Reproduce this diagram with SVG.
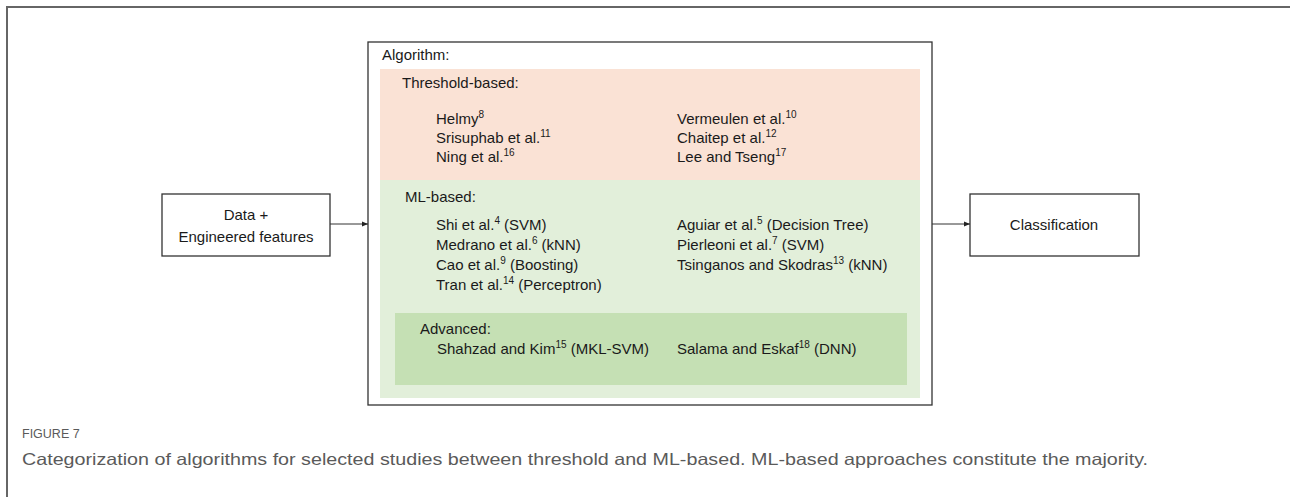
<svg xmlns="http://www.w3.org/2000/svg" width="1290" height="497" viewBox="0 0 1290 497">
<style>
.t{font-family:"Liberation Sans",Arial,sans-serif;font-size:15px;fill:#1a1a1a}
.s{font-size:10px}
.box{fill:#fff;stroke:#333;stroke-width:1.3}
.con{stroke:#333;stroke-width:1;fill:none}
.cap{font-family:"Liberation Sans",Arial,sans-serif;fill:#5a5a5a}
</style>
<defs>
<marker id="ah" viewBox="0 0 10 10" refX="10" refY="5" markerWidth="6" markerHeight="6" orient="auto" markerUnits="userSpaceOnUse">
<path d="M0,1 L10,5 L0,9 z" fill="#222"/>
</marker>
</defs>
<rect width="1290" height="497" fill="#fff"/>
<path d="M7,497 V7 H1290" fill="none" stroke="#666" stroke-width="2"/>

<g id="data">
<rect class="box" x="162" y="194" width="168" height="62"/>
<text class="t" x="246" y="220" text-anchor="middle">Data +</text>
<text class="t" x="246" y="242" text-anchor="middle">Engineered features</text>
</g>

<g id="algorithm">
<rect class="box" x="368" y="42" width="564" height="363"/>
<text class="t" x="382" y="60">Algorithm:</text>
<g id="threshold">
<rect x="380" y="69" width="540" height="111" fill="#FAE2D5"/>
<text class="t" x="402" y="88">Threshold-based:</text>
<text class="t" x="436" y="124">Helmy<tspan class="s" dy="-6">8</tspan></text>
<text class="t" x="436" y="143">Srisuphab et al.<tspan class="s" dy="-6">11</tspan></text>
<text class="t" x="436" y="162">Ning et al.<tspan class="s" dy="-6">16</tspan></text>
<text class="t" x="677" y="124">Vermeulen et al.<tspan class="s" dy="-6">10</tspan></text>
<text class="t" x="677" y="143">Chaitep et al.<tspan class="s" dy="-6">12</tspan></text>
<text class="t" x="677" y="162">Lee and Tseng<tspan class="s" dy="-6">17</tspan></text>
</g>
<g id="ml">
<rect x="380" y="180" width="540" height="218" fill="#E2EFDA"/>
<text class="t" x="405" y="202">ML-based:</text>
<text class="t" x="436" y="230">Shi et al.<tspan class="s" dy="-6">4</tspan><tspan dy="6"> (SVM)</tspan></text>
<text class="t" x="436" y="250">Medrano et al.<tspan class="s" dy="-6">6</tspan><tspan dy="6"> (kNN)</tspan></text>
<text class="t" x="436" y="270">Cao et al.<tspan class="s" dy="-6">9</tspan><tspan dy="6"> (Boosting)</tspan></text>
<text class="t" x="436" y="290">Tran et al.<tspan class="s" dy="-6">14</tspan><tspan dy="6"> (Perceptron)</tspan></text>
<text class="t" x="677" y="230">Aguiar et al.<tspan class="s" dy="-6">5</tspan><tspan dy="6"> (Decision Tree)</tspan></text>
<text class="t" x="677" y="250">Pierleoni et al.<tspan class="s" dy="-6">7</tspan><tspan dy="6"> (SVM)</tspan></text>
<text class="t" x="677" y="270">Tsinganos and Skodras<tspan class="s" dy="-6">13</tspan><tspan dy="6"> (kNN)</tspan></text>
</g>
<g id="advanced">
<rect x="395" y="313" width="512" height="72" fill="#C5E0B4"/>
<text class="t" x="420" y="334">Advanced:</text>
<text class="t" x="437" y="354">Shahzad and Kim<tspan class="s" dy="-6">15</tspan><tspan dy="6"> (MKL-SVM)</tspan></text>
<text class="t" x="677" y="354">Salama and Eskaf<tspan class="s" dy="-6">18</tspan><tspan dy="6"> (DNN)</tspan></text>
</g>
</g>

<g id="classification">
<rect class="box" x="970" y="194" width="169" height="62"/>
<text class="t" x="1054" y="230" text-anchor="middle">Classification</text>
</g>

<g id="connectors">
<line class="con" x1="330" y1="224" x2="368" y2="224" marker-end="url(#ah)"/>
<line class="con" x1="932" y1="224" x2="970" y2="224" marker-end="url(#ah)"/>
</g>

<g id="caption">
<text class="cap" x="22" y="438" font-size="12.5">FIGURE 7</text>
<text class="cap" x="22" y="465" font-size="16.5" textLength="1126" lengthAdjust="spacingAndGlyphs">Categorization of algorithms for selected studies between threshold and ML-based. ML-based approaches constitute the majority.</text>
</g>
</svg>
